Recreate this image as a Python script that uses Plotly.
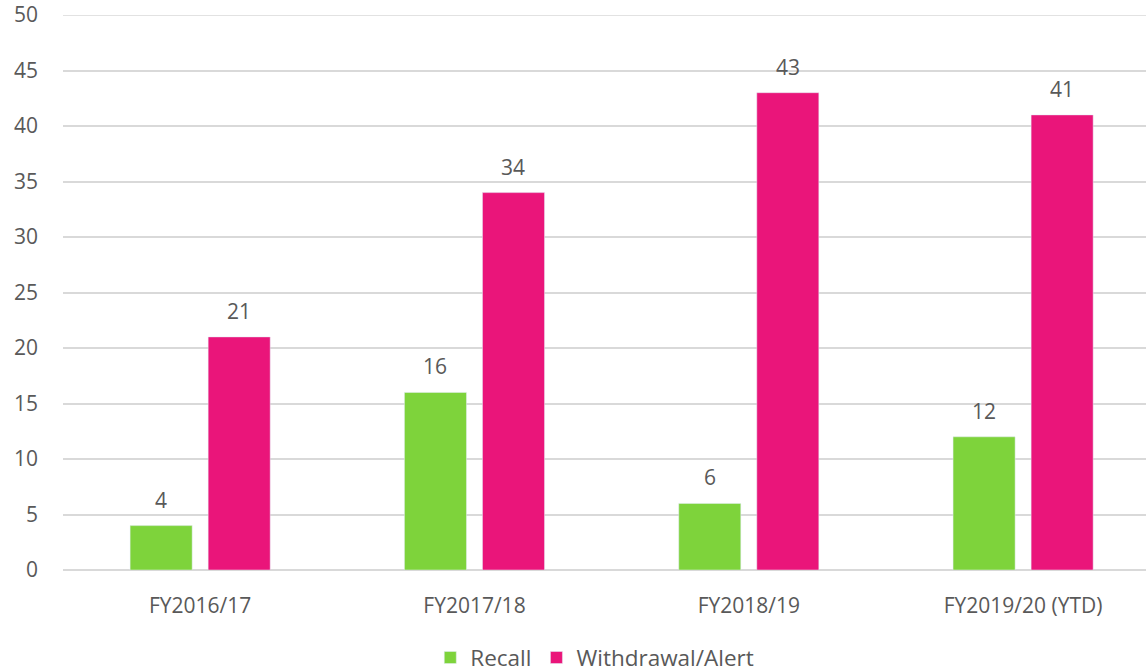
import plotly.graph_objects as go

categories = ["FY2016/17", "FY2017/18", "FY2018/19", "FY2019/20 (YTD)"]
recall = [4, 16, 6, 12]
withdrawal = [21, 34, 43, 41]
y_ticks = [0, 5, 10, 15, 20, 25, 30, 35, 40, 45, 50]

FONT = "Open Sans, Noto Sans, sans-serif"
TXT = "#595959"
GRID = "#D9D9D9"
SLOT = 39  # half-slot offset in px for label positioning

fig = go.Figure()
fig.add_trace(go.Bar(name="Recall", x=categories, y=recall, marker_color="#7ED33B"))
fig.add_trace(go.Bar(name="Withdrawal/Alert", x=categories, y=withdrawal, marker_color="#EA157A"))

for vals, shift in ((recall, -SLOT), (withdrawal, SLOT)):
    for c, v in zip(categories, vals):
        fig.add_annotation(x=c, y=v, xref="x", yref="y", text=str(v), showarrow=False,
                           xshift=shift, yshift=10, yanchor="bottom",
                           font=dict(size=21, color=TXT, family=FONT))

# top gridline (plotly omits the one at the very edge of the range)
fig.add_shape(type="line", xref="paper", yref="y", x0=0, x1=1, y0=y_ticks[-1], y1=y_ticks[-1],
              line=dict(color=GRID, width=1.5), layer="below")

fig.update_layout(
    width=1146, height=672,
    margin=dict(l=63, r=0, t=15, b=102),
    plot_bgcolor="white", paper_bgcolor="white",
    barmode="group", bargap=0.431, bargroupgap=0.205,
    font=dict(family=FONT, color=TXT, size=21),
    showlegend=True,
    legend=dict(orientation="h", x=0.519, xanchor="center", xref="container",
                y=0.021, yanchor="middle", yref="container",
                font=dict(size=22.5, color=TXT, family=FONT),
                traceorder="normal"),
    xaxis=dict(range=[-0.5, 3.448], showgrid=False, showline=False, ticks="",
               automargin=False,
               tickfont=dict(size=21, color=TXT), ticklabelstandoff=21),
    yaxis=dict(range=[0, 50], tickvals=y_ticks, showgrid=True, gridcolor=GRID,
               gridwidth=1.5, zeroline=True, zerolinecolor=GRID, zerolinewidth=1.5,
               automargin=False,
               tickfont=dict(size=21, color=TXT), ticklabelstandoff=24, ticks=""),
)
fig.write_html("out.html", config={"displayModeBar": False},
               post_script="document.body.style.margin='0';document.body.style.overflow='hidden';")
